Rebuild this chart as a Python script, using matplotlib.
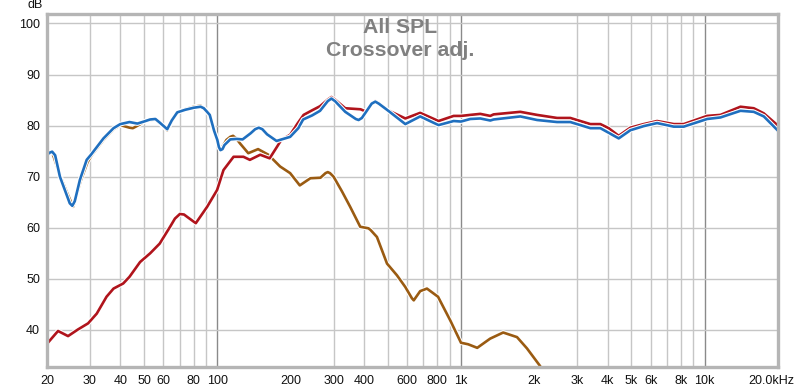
import numpy as np
import matplotlib
matplotlib.use("Agg")
import matplotlib.pyplot as plt
import matplotlib.patheffects as pe
from matplotlib.transforms import ScaledTranslation

# overall response (blue)
total_f = [20, 20.5, 21, 21.6, 22.6, 24.1, 24.8, 25.4, 26.0, 27.3, 29.1, 30.3, 34.1, 37.5, 40, 43.6, 47,
           50, 53, 55.7, 58, 62.3, 65, 68.5, 73.8, 80, 85.4, 88, 90, 93.1, 97, 100, 101.5, 103, 105,
           107, 113, 120, 127, 137, 143, 148, 153, 160, 175, 199, 215, 225, 245, 264, 284, 294, 304,
           335, 370, 380, 392, 430, 445, 460, 497, 591, 680, 809, 933, 1000, 1092, 1200, 1319,
           1361, 1752, 2052, 2479, 2810, 3396, 3733, 4038, 4439, 4958, 5622, 6380, 7468, 8208,
           10240, 11612, 14030, 15908, 17492, 20000]
total_db = [74.3, 74.7, 74.9, 74.2, 70.0, 66.4, 64.8, 64.3, 65.2, 69.4, 73.3, 74.3, 77.5, 79.5, 80.3, 80.7, 80.4,
            80.8, 81.2, 81.3, 80.6, 79.3, 81.0, 82.6, 83.1, 83.5, 83.7, 83.4, 82.9, 82.1, 79.0, 77.2, 75.8, 75.2, 75.4,
            76.2, 77.3, 77.4, 77.3, 78.5, 79.3, 79.6, 79.3, 78.3, 77.0, 77.8, 79.5, 81.2, 82.0, 82.9, 84.8, 85.3, 84.8,
            82.7, 81.3, 81.1, 81.5, 84.3, 84.7, 84.3, 83.1, 80.3, 81.8, 80.1, 80.9, 80.8, 81.3, 81.4, 81.0,
            81.2, 81.8, 81.1, 80.7, 80.7, 79.5, 79.5, 78.6, 77.5, 79.1, 79.9, 80.5, 79.8, 79.8,
            81.3, 81.6, 82.9, 82.7, 81.8, 79.0]

# high-pass driver (red)
hp_f = [20, 22.2, 24.4, 26.8, 29.5, 32, 35.1, 37.5, 41.1, 43.6, 48.2, 53, 58, 64, 67, 70.2, 73,
        74.9, 81.6, 90.8, 99.8, 106, 116.6, 128, 136, 150, 164, 176, 183, 199, 214, 226, 245,
        264, 284, 294, 304, 335, 387, 410, 430, 445, 460, 497, 591, 680, 809, 933, 1000, 1092,
        1200, 1319, 1361, 1752, 2052, 2479, 2810, 3396, 3733, 4038, 4439, 4958, 5622, 6380,
        7468, 8208, 10240, 11612, 14030, 15908, 17492, 20000]
hp_db = [37.3, 39.8, 38.8, 40.1, 41.3, 43.2, 46.5, 48.1, 49.1, 50.4, 53.3, 55.0, 56.9, 60.2, 61.8, 62.7, 62.6,
         62.2, 60.9, 64.1, 67.4, 71.3, 73.9, 73.9, 73.3, 74.3, 73.6, 75.9, 77.2, 78.2, 80.5, 82.1, 83.0,
         83.8, 85.1, 85.6, 85.1, 83.4, 83.2, 82.7, 84.4, 84.8, 84.4, 83.1, 81.4, 82.5, 80.9, 81.9, 81.9, 82.1,
         82.3, 81.9, 82.2, 82.7, 82.1, 81.5, 81.5, 80.3, 80.3, 79.5, 78.0, 79.6, 80.3, 80.9,
         80.3, 80.3, 81.9, 82.1, 83.7, 83.4, 82.4, 80.0]

# low-pass driver (brown)
lp_f = [20, 21, 22.6, 24.1, 25.6, 27.5, 29.3, 30.5, 34.1, 37.5, 40, 43.6, 45, 48, 50, 53, 55.7,
        58, 62.3, 65, 68.5, 73.8, 80, 85.4, 90, 93.1, 97, 100, 103, 109, 113, 116, 119, 124, 134,
        147, 162, 181, 199, 218, 241, 265, 278, 284, 290, 300, 325, 351, 386, 417, 425, 452, 497,
        546, 591, 629, 640, 680, 725, 805, 903, 1000, 1070, 1166, 1317, 1490, 1698, 1865, 2100, 2250]
lp_db = [74.3, 74.8, 70.3, 67.0, 64.1, 69.2, 72.8, 74.2, 77.2, 79.3, 80.1, 79.6, 79.5, 80.2, 80.8, 81.1, 81.2,
         80.5, 79.1, 80.9, 82.6, 83.2, 83.7, 83.9, 83.0, 82.1, 79.0, 77.0, 75.2, 77.2, 77.8, 78.0, 77.6, 76.5, 74.6,
         75.4, 74.3, 72.0, 70.7, 68.3, 69.7, 69.8, 70.7, 70.9, 70.7, 70.0, 67.1, 64.1, 60.2, 59.9, 59.6, 58.2, 53.0,
         50.7, 48.4, 46.2, 45.8, 47.6, 48.1, 46.5, 41.9, 37.5, 37.2, 36.5, 38.3, 39.5, 38.6, 36.4, 33.1, 31.0]

xtick_pos = [20, 30, 40, 50, 60, 80, 100, 200, 300, 400, 600, 800, 1000, 2000, 3000,
             4000, 5000, 6000, 8000, 10000, 20000]
xtick_lab = ['20', '30', '40', '50', '60', '80', '100', '200', '300', '400', '600', '800',
             '1k', '2k', '3k', '4k', '5k', '6k', '8k', '10k', '20.0kHz']
ytick_pos = [40, 50, 60, 70, 80, 90, 100]

plt.rcParams['font.family'] = ['Liberation Sans', 'DejaVu Sans']

fig = plt.figure(figsize=(8, 3.89), dpi=100)
ax = fig.add_axes([47/800, 1-367/389, (778-47)/800, (367-14)/389])

ax.set_xscale('log')
ax.set_xlim(20, 20000)
ax.set_ylim(32.75, 101.85)

# grid: light lines for 30..90 per decade, darker ones on decades
light = [f * m for m in (10, 100, 1000) for f in range(3, 10)]
light = [v for v in light if v not in (100, 1000, 10000)]
for v in light:
    ax.axvline(v, color='#c6c6c6', lw=1.0, zorder=1)
for v in (100, 1000, 10000):
    ax.axvline(v, color='#8a8a8a', lw=1.0, zorder=1)
for v in ytick_pos:
    ax.axhline(v, color='#c6c6c6', lw=1.0, zorder=1)

halo = [pe.Stroke(linewidth=3.4, foreground='white'), pe.Normal()]
ax.plot(lp_f, lp_db, color='#9a5b12', lw=1.9, zorder=3, path_effects=halo, solid_joinstyle='round')
ax.plot(hp_f, hp_db, color='#b0141c', lw=1.9, zorder=4, path_effects=halo, solid_joinstyle='round')
ax.plot(total_f, total_db, color='#1f6fbf', lw=1.9, zorder=5, path_effects=halo, solid_joinstyle='round')

ax.xaxis.set_major_locator(matplotlib.ticker.FixedLocator(xtick_pos))
ax.xaxis.set_major_formatter(matplotlib.ticker.FixedFormatter(xtick_lab))
ax.xaxis.set_minor_locator(matplotlib.ticker.NullLocator())
ax.set_yticks(ytick_pos)
ax.tick_params(axis='both', length=0, labelsize=9, colors='#111111')
ax.tick_params(axis='x', pad=5.5)
ax.tick_params(axis='y', pad=5)
lab = ax.get_xticklabels()[-1]
lab.set_transform(lab.get_transform() + ScaledTranslation(-7/100, 0, fig.dpi_scale_trans))

for s in ax.spines.values():
    s.set_color('#b5b5b5')
    s.set_linewidth(2.4)
    s.set_zorder(6)

fig.text(400/800, 1-33.3/389, 'All SPL', ha='center', va='baseline',
         fontsize=15.3, fontweight='bold', color='#808080')
fig.text(400/800, 1-56/389, 'Crossover adj.', ha='center', va='baseline',
         fontsize=15.3, fontweight='bold', color='#808080')
fig.text(27/800, 1-8.5/389, 'dB', ha='left', va='baseline', fontsize=9, color='#111111')

fig.savefig('out.png', dpi=100)
